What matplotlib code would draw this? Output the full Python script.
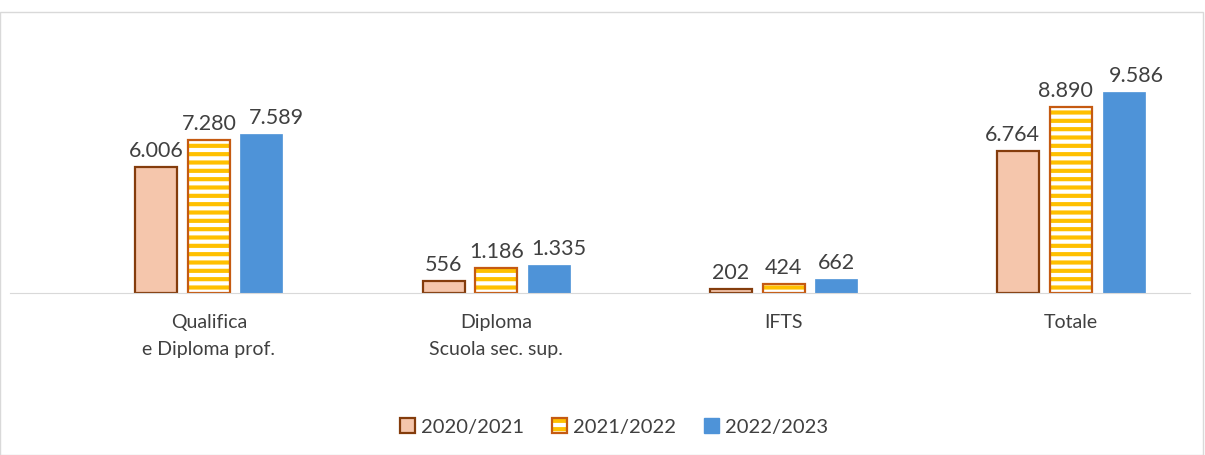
import numpy as np
import matplotlib.pyplot as plt
from matplotlib.patches import Patch, Rectangle
from matplotlib.legend_handler import HandlerTuple

plt.rcParams['font.family'] = ['Lato', 'DejaVu Sans']
plt.rcParams['hatch.linewidth'] = 3.0

# data
categories = ['Qualifica\ne Diploma prof.', 'Diploma\nScuola sec. sup.', 'IFTS', 'Totale']
series_names = ['2020/2021', '2021/2022', '2022/2023']
v2021 = [6006, 556, 202, 6764]
v2122 = [7280, 1186, 424, 8890]
v2223 = [7589, 1335, 662, 9586]

def fmt(v):
    return f'{v:,}'.replace(',', '.')

fig = plt.figure(figsize=(12.05, 4.55), dpi=100)
# light chart border
fig.patches.append(Rectangle((0.0, 0.0), 1203 / 1205, 443 / 455, transform=fig.transFigure,
                             fill=False, edgecolor='#D9D9D9', lw=1))
ax = fig.add_axes([10 / 1205, 162 / 455, 1180 / 1205, 209.5 / 455])

x = np.arange(len(categories))
w = 0.146
off = 0.183

ax.bar(x - off, v2021, w, color='#F5C6AC', edgecolor='#843C0C', lw=1.6)
ax.bar(x, v2122, w, color='white', edgecolor='#FFC000', hatch='--', lw=0)
ax.bar(x, v2122, w, color='none', edgecolor='#C55A11', lw=1.6)
ax.bar(x + off, v2223, w, color='#4E93D8', edgecolor='#4E93D8', lw=0.5)

# small sideways nudges (pixels) so neighbouring labels don't collide, like Excel does
nudges = [[0, 0, 0, -6], [0, 0, 0, -6], [15, 10, 0, 13]]
for k, (xs, vals) in enumerate([(x - off, v2021), (x, v2122), (x + off, v2223)]):
    for j, (xi, v) in enumerate(zip(xs, vals)):
        ax.annotate(fmt(v), (xi, v), xytext=(nudges[k][j], 6), textcoords='offset pixels',
                    ha='center', va='bottom', fontsize=15.5, color='#404040')

ax.set_xlim(-0.692, 3.414)
ax.set_ylim(0, 10000)
ax.set_yticks([])
ax.set_xticks(x)
ax.set_xticklabels(categories, fontsize=14, color='#404040', linespacing=1.75)
ax.tick_params(axis='x', length=0, pad=15)
for s in ['top', 'right', 'left']:
    ax.spines[s].set_visible(False)
ax.spines['bottom'].set_color('#D9D9D9')
ax.patch.set_alpha(0)

h1 = Patch(facecolor='#F5C6AC', edgecolor='#843C0C', lw=1.6)
h2 = (Patch(facecolor='white', edgecolor='#FFC000', hatch='--', lw=0),
      Patch(facecolor='none', edgecolor='#C55A11', lw=1.6))
h3 = Patch(facecolor='#4E93D8', edgecolor='#4E93D8')
fig.legend([h1, h2, h3], series_names, loc='center', bbox_to_anchor=(614 / 1205, 1 - 427 / 455),
           ncol=3, frameon=False, fontsize=14.5, labelcolor='#404040',
           handlelength=0.75, handleheight=0.75, handletextpad=0.3, columnspacing=1.4,
           handler_map={tuple: HandlerTuple(ndivide=1)})

fig.savefig('out.png', dpi=100)
